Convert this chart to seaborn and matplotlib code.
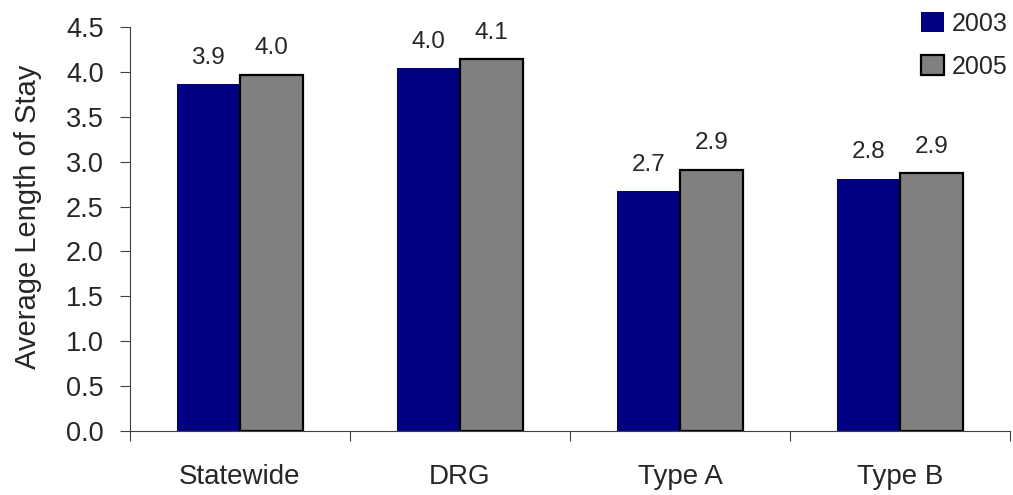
import matplotlib
matplotlib.use("Agg")
import matplotlib.pyplot as plt
from matplotlib.patches import Patch
from matplotlib.ticker import FixedLocator
import numpy as np
import pandas as pd
import seaborn as sns

# Average length of stay by group, two survey years
categories = ["Statewide", "DRG", "Type A", "Type B"]
years = ["2003", "2005"]
stay_2003 = [3.86, 4.04, 2.67, 2.81]
stay_2005 = [3.97, 4.14, 2.91, 2.87]
y_ticks = [0.0, 0.5, 1.0, 1.5, 2.0, 2.5, 3.0, 3.5, 4.0, 4.5]

df = pd.DataFrame({
    "group": categories * 2,
    "year": [years[0]] * len(categories) + [years[1]] * len(categories),
    "stay": stay_2003 + stay_2005,
})

sns.set_theme(style="white")
plt.rcParams["font.family"] = ["Liberation Sans", "DejaVu Sans"]

palette = {"2003": "#000080", "2005": "#808080"}

fig = plt.figure(figsize=(10.13, 4.95), dpi=100)
ax = fig.add_axes([130 / 1013, 1 - 431 / 495, 880 / 1013, 404 / 495])

sns.barplot(data=df, x="group", y="stay", hue="year", order=categories,
            hue_order=years, palette=palette, width=0.575, saturation=1,
            ax=ax, legend=False)

# Outline only the 2005 bars
for container, year in zip(ax.containers, years):
    for bar in container:
        bar.set_linewidth(0 if year == "2003" else 1.6)
        bar.set_edgecolor("none" if year == "2003" else "black")
    ax.bar_label(container, fmt="%.1f", padding=11, fontsize=17.5)

ax.set_ylim(0, 4.5)
ax.set_xlim(-0.5, len(categories) - 0.5)
ax.set_yticks(y_ticks)
ax.set_yticklabels([f"{t:.1f}" for t in y_ticks])
ax.tick_params(axis="y", which="major", direction="out", length=7,
               width=0.8, color="#404040", pad=12, labelsize=19.5, left=True)

# Category labels centred, tick marks on the boundaries between groups
ax.tick_params(axis="x", which="major", length=0, pad=24, labelsize=20)
ax.xaxis.set_minor_locator(FixedLocator(np.arange(-0.5, len(categories), 1.0)))
ax.tick_params(axis="x", which="minor", direction="out", length=7,
               width=0.8, color="#404040", bottom=True)

ax.set_xlabel("")
ax.set_ylabel("Average Length of Stay", fontsize=21)
ax.yaxis.set_label_coords(-0.1, 0.53)

for side in ["top", "right"]:
    ax.spines[side].set_visible(False)
for side in ["left", "bottom"]:
    ax.spines[side].set_color("#404040")
    ax.spines[side].set_linewidth(0.8)

handles = [Patch(facecolor=palette["2003"], edgecolor="none"),
           Patch(facecolor=palette["2005"], edgecolor="black", linewidth=1.6)]
leg = fig.legend(handles, years, loc="upper left",
                 bbox_to_anchor=(921 / 1013, 1 - 12 / 495),
                 frameon=False, borderpad=0, borderaxespad=0,
                 handlelength=0.92, handleheight=0.85, handletextpad=0.3,
                 labelspacing=0.75, prop={"size": 18})

fig.savefig("out.png", dpi=100)
